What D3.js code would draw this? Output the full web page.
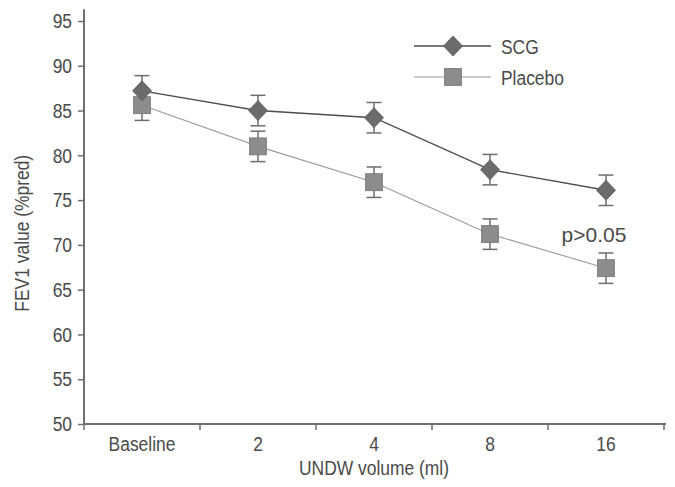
<!DOCTYPE html>
<html>
<head>
<meta charset="utf-8">
<script src="https://cdn.jsdelivr.net/npm/d3@7"></script>
<style>
  body { margin: 0; background: #fff; }
  svg { display: block; }
  text { font-family: "Liberation Sans", Arial, sans-serif; fill: #4a4a4a; font-size: 21px; }
  /* squeeze glyphs to mimic the condensed face of the original */
  text.cond { transform-box: fill-box; transform-origin: center; transform: scaleX(0.83); }
  text.cond-end { transform-box: fill-box; transform-origin: right center; transform: scaleX(0.83); }
  text.cond-start { transform-box: fill-box; transform-origin: left center; transform: scaleX(0.83); }
</style>
</head>
<body>
<div id="chart"></div>
<script>
// FEV1 value by UNDW volume, SCG vs placebo (mean with error bars)
const categories = ["Baseline", "2", "4", "8", "16"];
const scgMean = [87.2, 85.0, 84.2, 78.4, 76.1];
const scgErr = [1.7, 1.7, 1.7, 1.7, 1.7];
const placeboMean = [85.6, 81.0, 77.0, 71.2, 67.4];
const placeboErr = [1.7, 1.7, 1.7, 1.7, 1.7];
const yTicks = [50, 55, 60, 65, 70, 75, 80, 85, 90, 95];

const width = 675, height = 487;
const margin = { top: 21, right: 11, bottom: 63, left: 84 };

const svg = d3.select("#chart").append("svg")
  .attr("width", width)
  .attr("height", height);

const x = d3.scaleBand()
  .domain(categories)
  .range([margin.left, width - margin.right])
  .padding(0);

const y = d3.scaleLinear()
  .domain([50, 95])
  .range([height - margin.bottom, margin.top]);

const axisColor = "#707070";

// y axis
const yAxis = d3.axisLeft(y).tickValues(yTicks).tickSize(6).tickPadding(6);
const yAxisG = svg.append("g")
  .attr("transform", `translate(${margin.left},0)`)
  .call(yAxis);
yAxisG.select(".domain").remove();
yAxisG.selectAll("line").attr("stroke", axisColor).attr("stroke-width", 1.5);
yAxisG.attr("font-size", null).attr("font-family", null);
yAxisG.selectAll("text").attr("class", "cond-end").attr("fill", "#4a4a4a");
svg.append("line")
  .attr("x1", margin.left).attr("x2", margin.left)
  .attr("y1", y(96.3)).attr("y2", y(50))
  .attr("stroke", axisColor).attr("stroke-width", 2);

// x axis: labels centred in bands, ticks on band edges
const xAxis = d3.axisBottom(x).tickSize(0).tickPadding(12);
const xAxisG = svg.append("g")
  .attr("transform", `translate(0,${y(50)})`)
  .call(xAxis);
xAxisG.select(".domain").remove();
xAxisG.attr("font-size", null).attr("font-family", null);
xAxisG.selectAll("text").attr("class", "cond").attr("fill", "#4a4a4a");

svg.append("line")
  .attr("x1", margin.left).attr("x2", x.range()[1] + 2)
  .attr("y1", y(50)).attr("y2", y(50))
  .attr("stroke", axisColor).attr("stroke-width", 2);

const edges = categories.map((c) => x(c)).concat([x.range()[1]]);
svg.append("g").selectAll("line")
  .data(edges)
  .join("line")
  .attr("x1", (d) => d).attr("x2", (d) => d)
  .attr("y1", y(50)).attr("y2", y(50) + 6)
  .attr("stroke", axisColor).attr("stroke-width", 1.5);

// axis titles
svg.append("text")
  .attr("class", "cond")
  .attr("x", x.range()[0] + (x.range()[1] - x.range()[0]) / 2)
  .attr("y", height - 12)
  .attr("text-anchor", "middle")
  .text("UNDW volume (ml)");

svg.append("g")
  .attr("transform", `translate(29,${y(71.3)}) rotate(-90)`)
  .append("text")
  .attr("class", "cond")
  .attr("text-anchor", "middle")
  .text("FEV1 value (%pred)");

// series
const series = [
  { name: "SCG", mean: scgMean, err: scgErr, line: "#4d4d4d", lineWidth: 1.4, fill: "#6b6b6b", symbol: "diamond" },
  { name: "Placebo", mean: placeboMean, err: placeboErr, line: "#9a9a9a", lineWidth: 1.1, fill: "#8c8c8c", symbol: "square" }
];

const cx = (i) => x(categories[i]) + x.bandwidth() / 2;

function drawSymbol(g, s) {
  if (s.symbol === "diamond") {
    g.append("path")
      .attr("d", "M0,-10L9.5,0L0,10L-9.5,0Z")
      .attr("fill", s.fill)
      .attr("stroke", "#5a5a5a")
      .attr("stroke-width", 0.8);
  } else {
    g.append("rect")
      .attr("x", -8.5).attr("y", -8.5)
      .attr("width", 17).attr("height", 17)
      .attr("fill", s.fill)
      .attr("stroke", "#777")
      .attr("stroke-width", 0.8);
  }
}

// error bars first
series.forEach((s) => {
  const g = svg.append("g").attr("class", "err");
  s.mean.forEach((m, i) => {
    const px = cx(i);
    const lo = y(m - s.err[i]);
    const hi = y(m + s.err[i]);
    g.append("line").attr("x1", px).attr("x2", px).attr("y1", lo).attr("y2", hi)
      .attr("stroke", "#6e6e6e").attr("stroke-width", 1.5);
    [lo, hi].forEach((yy) => {
      g.append("line").attr("x1", px - 7.5).attr("x2", px + 7.5).attr("y1", yy).attr("y2", yy)
        .attr("stroke", "#6e6e6e").attr("stroke-width", 1.5);
    });
  });
});

series.slice().reverse().forEach((s) => {
  const line = d3.line().x((d, i) => cx(i)).y((d) => y(d));
  svg.append("path")
    .datum(s.mean)
    .attr("fill", "none")
    .attr("stroke", s.line)
    .attr("stroke-width", s.lineWidth)
    .attr("d", line);
});

series.slice().reverse().forEach((s) => {
  s.mean.forEach((m, i) => {
    const g = svg.append("g").attr("transform", `translate(${cx(i)},${y(m)})`);
    drawSymbol(g, s);
  });
});

// legend
const legend = svg.append("g").attr("transform", "translate(414,46)");
series.forEach((s, i) => {
  const row = legend.append("g").attr("transform", `translate(0,${i * 31})`);
  row.append("line").attr("x1", 0).attr("x2", 77).attr("y1", 0).attr("y2", 0)
    .attr("stroke", s.line).attr("stroke-width", s.lineWidth);
  const m = row.append("g").attr("transform", "translate(39,0)");
  drawSymbol(m, s);
  row.append("text")
    .attr("class", "cond-start")
    .attr("x", 87).attr("y", 7.5)
    .text(s.name);
});

// annotation
svg.append("text")
  .attr("x", cx(4) - 12)
  .attr("y", y(70.3))
  .attr("text-anchor", "middle")
  .text("p>0.05");
</script>
</body>
</html>
